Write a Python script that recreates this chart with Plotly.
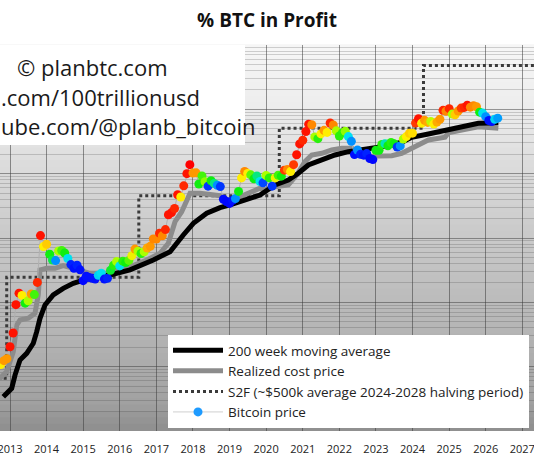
import numpy as np
import pandas as pd
import plotly.graph_objects as go
from datetime import datetime

# ---------------- data ----------------
# Monthly closing price of bitcoin, first month = Oct 2012
btc_start_month = "2012-10-01"
btc_close = [
    10.8, 12.4, 13.3,
    20.4, 33.4, 92, 139, 128, 97, 106, 135, 132, 204, 1090, 735,
    800, 560, 455, 445, 630, 640, 585, 480, 386, 338, 378, 320,
    217, 254, 244, 236, 230, 263, 284, 230, 236, 314, 377, 430,
    368, 437, 416, 448, 531, 673, 624, 575, 609, 698, 742, 963,
    965, 1190, 1080, 1350, 2300, 2480, 2875, 4700, 4340, 6470, 10000, 13800,
    10200, 10300, 6900, 9200, 7500, 6400, 7750, 7050, 6600, 6300, 4000, 3700,
    3450, 3850, 4100, 5300, 8600, 10800, 10100, 9600, 8300, 9200, 7550, 7200,
    9350, 8600, 6400, 8600, 9450, 9140, 11350, 11650, 10780, 13800, 19700, 29000,
    33100, 45200, 58800, 57700, 37300, 35000, 41500, 47100, 43800, 61300, 57000, 46300,
    38500, 43200, 45500, 37700, 31800, 19800, 23300, 20050, 19400, 20500, 17200, 16550,
    23100, 23150, 28500, 29300, 27200, 30500, 29200, 26000, 27000, 34500, 37700, 42300,
    42600, 61200, 71300, 60700, 67500, 62700, 64600, 59000, 63300, 70200, 96400, 93400,
    102400, 84400, 82500, 94200, 104600, 107100, 115800, 108200, 114000, 109500, 90400, 87500,
    77000, 67000, 64500, 70000, 73000,
]
# % of BTC supply in profit for each month (marker colour)
pct_in_profit = [
    87, 92, 92,
    99, 99, 99, 99, 87, 76, 82, 92, 78, 98, 99, 87,
    89, 76, 74, 62, 82, 78, 76, 68, 56, 55, 56, 55,
    52, 55, 55, 55, 55, 67, 68, 55, 56, 75, 77, 82,
    68, 77, 76, 79, 86, 92, 82, 77, 82, 91, 92, 93,
    93, 98, 93, 98, 99, 99, 98, 99, 87, 98, 99, 100,
    92, 92, 76, 78, 81, 57, 76, 72, 62, 57, 53, 52,
    52, 55, 62, 76, 87, 93, 87, 79, 76, 72, 68, 58,
    82, 77, 57, 86, 78, 76, 97, 93, 87, 97, 99, 99,
    98, 99, 99, 93, 82, 77, 87, 92, 87, 98, 93, 82,
    77, 77, 81, 68, 62, 54, 62, 56, 55, 56, 52, 52,
    76, 76, 77, 70, 76, 77, 76, 57, 62, 82, 87, 89,
    88, 97, 99, 87, 92, 91, 83, 87, 91, 92, 98, 93,
    98, 82, 89, 92, 97, 98, 99, 93, 93, 92, 76, 68,
    62, 55, 55, 67, 63,
]

# 200 week moving average (decimal year, USD)
wma_year = [2012.817, 2013.046, 2013.137, 2013.273, 2013.456, 2013.637, 2013.73, 2013.82,
            2013.957, 2014.183, 2014.457, 2014.73, 2015.003, 2015.37, 2015.733, 2016.28,
            2016.916, 2017.373, 2017.736, 2018.01, 2018.376, 2018.74, 2019.013, 2019.376,
            2019.833, 2020.243, 2020.606, 2020.879, 2021.152, 2021.519, 2021.882, 2022.246,
            2022.702, 2023.158, 2023.705, 2023.978, 2024.432, 2024.888, 2025.345, 2025.799,
            2026.345]
wma_value = [3.4, 4.6, 7.4, 12.7, 16.1, 23.1, 35, 56.5,
             91, 130, 165, 198, 222, 250, 266, 320,
             455, 612, 1114, 1694, 2423, 2960, 3260, 3760,
             4660, 6670, 7980, 10140, 13650, 16330, 19520, 21970,
             23930, 26250, 30740, 36790, 41420, 46590, 53750, 60670,
             62080]

# Realized cost price (decimal year, USD)
realized_year = [2012.70, 2012.91, 2013.09, 2013.183, 2013.273, 2013.5, 2013.683, 2013.773,
                 2013.82, 2014.003, 2014.23, 2014.457, 2014.73, 2015.003, 2015.186, 2015.46,
                 2015.733, 2016.097, 2016.28, 2016.736, 2017.1, 2017.326, 2017.51, 2017.692,
                 2017.873, 2017.92, 2018.193, 2018.466, 2018.74, 2019.013, 2019.376, 2019.65,
                 2019.833, 2019.97, 2020.243, 2020.606, 2020.836, 2021.06, 2021.245, 2021.519,
                 2021.792, 2022.065, 2022.34, 2022.43, 2022.702, 2023.065, 2023.432, 2023.705,
                 2023.795, 2024.068, 2024.432, 2024.888, 2024.979, 2025.345, 2025.799, 2026.345]
realized_value = [6.4, 8.4, 17.1, 44.4, 53.1, 56.5, 67.6, 130,
                  318, 338, 338, 371, 338, 299, 282, 282,
                  282, 338, 358, 455, 578, 827, 1794, 2566,
                  4385, 4955, 4955, 4665, 4550, 3760, 4665, 5575,
                  5925, 5575, 6275, 6670, 9540, 15360, 19520, 20740,
                  23350, 24820, 24820, 19520, 18360, 18830, 19050, 20740,
                  21970, 26920, 33400, 36790, 43350, 47750, 53750, 50800]

# Stock-to-flow model level per halving period
s2f_year = [2012.5, 2012.91, 2012.91, 2016.52, 2016.52, 2020.36, 2020.36, 2024.30, 2024.30, 2028.3]
s2f_value = [6.6, 6.6, 246, 246, 4520, 4520, 51000, 51000, 480000, 480000]

year_ticks = list(range(2013, 2028))

legend_names = ["200 week moving average", "Realized cost price",
                "S2F (~$500k average 2024-2028 halving period)", "Bitcoin price"]
title_text = "% BTC in Profit"
credit_lines = ["© planbtc.com", ".com/100trillionusd", "ube.com/@planb_bitcoin"]


def yr2date(y):
    yi = int(np.floor(y))
    a = datetime(yi, 1, 1)
    b = datetime(yi + 1, 1, 1)
    return a + (b - a) * (y - yi)


months = pd.date_range(btc_start_month, periods=len(btc_close), freq="MS")

W, H = 534, 462
ML, MR, MT, MB = 0, 0, 45, 31
FONT = "Open Sans"

colorscale = [[0.0, "#0000ff"], [0.1, "#0010ff"], [0.24, "#0090ff"], [0.36, "#00e0f0"],
              [0.52, "#10ee10"], [0.64, "#aaff00"], [0.74, "#ffee00"], [0.86, "#ff8800"],
              [1.0, "#ff0000"]]

fig = go.Figure()

fig.add_trace(go.Scatter(
    x=[yr2date(v) for v in s2f_year], y=s2f_value, mode="lines",
    name=legend_names[2], legendrank=3,
    line=dict(color="#3a3a3a", width=3, dash="dot"),
))
fig.add_trace(go.Scatter(
    x=[yr2date(v) for v in realized_year], y=realized_value, mode="lines",
    name=legend_names[1], legendrank=2,
    line=dict(color="#8c8c8c", width=5),
))
fig.add_trace(go.Scatter(
    x=[yr2date(v) for v in wma_year], y=wma_value, mode="lines",
    name=legend_names[0], legendrank=1,
    line=dict(color="#000000", width=5),
))
fig.add_trace(go.Scatter(
    x=months, y=btc_close, mode="lines+markers", showlegend=False,
    line=dict(color="#b0b0b0", width=1),
    marker=dict(size=9, color=pct_in_profit, colorscale=colorscale, cmin=50, cmax=100,
                line=dict(width=0)),
))
fig.add_trace(go.Scatter(
    x=[None], y=[None], mode="lines+markers", name=legend_names[3], legendrank=4,
    line=dict(color="#cfcfcf", width=1),
    marker=dict(size=9, color="#1e9bff"),
))

# background gradient of the plot area (white at top to grey at bottom)
grad_px = [45, 110, 190, 230, 335, 400, 431]
grad_lv = [247, 236, 213, 203, 180, 162, 142]
shapes = []
n_bands = 60
for i in range(n_bands):
    p0 = 45 + (431 - 45) * i / n_bands
    p1 = 45 + (431 - 45) * (i + 1) / n_bands
    lv = int(round(np.interp((p0 + p1) / 2, grad_px, grad_lv)))
    shapes.append(dict(type="rect", xref="paper", yref="paper", x0=0, x1=1,
                       y0=(431 - p1) / 386, y1=(431 - p0) / 386 + 0.002,
                       fillcolor=f"rgb({lv},{lv},{lv})", line=dict(width=0), layer="below"))
# white credit box
shapes.append(dict(type="rect", xref="paper", yref="paper", x0=0, x1=245 / W,
                   y0=(431 - 145) / 386, y1=1, fillcolor="white", line=dict(width=0),
                   layer="above"))

annotations = [
    dict(text=credit_lines[0], xref="paper", yref="paper", x=92 / W, xanchor="center",
         y=(431 - 67) / 386, yanchor="middle", showarrow=False,
         font=dict(family=FONT, size=22, color="#1a1a1a")),
    dict(text=credit_lines[1], xref="paper", yref="paper", x=-0.002, xanchor="left",
         y=(431 - 97) / 386, yanchor="middle", showarrow=False,
         font=dict(family=FONT, size=22, color="#1a1a1a")),
    dict(text=credit_lines[2], xref="paper", yref="paper", x=-0.002, xanchor="left",
         y=(431 - 126) / 386, yanchor="middle", showarrow=False,
         font=dict(family=FONT, size=22, color="#1a1a1a")),
]

fig.update_layout(
    width=W, height=H,
    margin=dict(l=ML, r=MR, t=MT, b=MB, autoexpand=False),
    paper_bgcolor="white", plot_bgcolor="#c8c8c8",
    font=dict(family=FONT, color="#222222"),
    title=dict(text=title_text, x=0.5, xanchor="center", y=1 - 20 / H, yanchor="middle",
               yref="container", font=dict(family=FONT, size=19, color="#111111", weight="bold")),
    shapes=shapes, annotations=annotations,
    legend=dict(x=168 / W, xanchor="left", y=(431 - 335) / 386, yanchor="top",
                bgcolor="white", borderwidth=0, itemwidth=50,
                font=dict(family=FONT, size=13.5, color="#222222")),
    xaxis=dict(type="date",
               range=[yr2date(2012.727), yr2date(2027.32)],
               tickvals=[datetime(y, 1, 1) for y in year_ticks],
               ticktext=[str(y) for y in year_ticks],
               showgrid=True, gridcolor="rgba(60,60,60,0.55)", gridwidth=1,
               zeroline=False, showline=False, ticks="", ticklabelstandoff=10,
               ticklabeloverflow="allow",
               tickfont=dict(family=FONT, size=11, color="#222222")),
    yaxis=dict(type="log", range=[0, 6], dtick=1, showticklabels=False,
               showgrid=True, gridcolor="rgba(60,60,60,0.5)", gridwidth=1,
               zeroline=False, showline=False, ticks="",
               minor=dict(dtick="D1", showgrid=True, gridcolor="rgba(60,60,60,0.22)",
                          gridwidth=1, ticks="")),
)

fig.write_html("out.html", config={"displayModeBar": False},
               post_script="document.body.style.margin='0px';document.body.style.overflow='hidden';")
